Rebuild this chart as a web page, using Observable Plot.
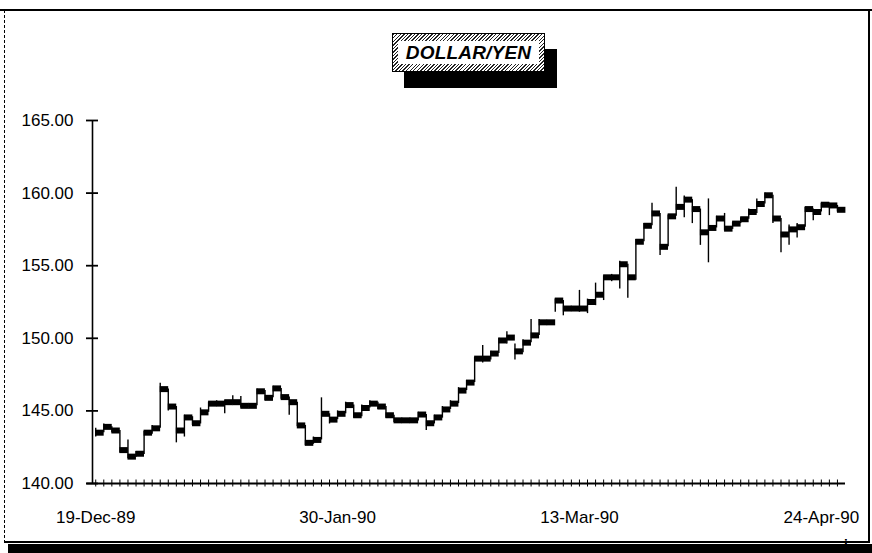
<!DOCTYPE html>
<html>
<head>
<meta charset="utf-8">
<script src="https://cdn.jsdelivr.net/npm/d3@7"></script>
<script src="https://cdn.jsdelivr.net/npm/@observablehq/plot@0.6"></script>
<style>
  html, body { margin: 0; padding: 0; background: #fff; }
  #wrap { position: relative; width: 872px; height: 553px; overflow: hidden; font-family: "Liberation Sans", Arial, sans-serif; }
  #chart { position: absolute; left: 0; top: 0; }
  .ln { position: absolute; background: #000; }
  #titlebox {
    position: absolute; left: 392px; top: 33px; width: 151px; height: 37px;
    border: 1px solid #000;
    background: repeating-linear-gradient(135deg, #222 0 1px, #fff 1px 2.5px);
    box-shadow: 12px 16px 0 0 #000;
  }
  #titlebox .inner {
    position: absolute; left: 5px; right: 5px; top: 7px; bottom: 7px;
    background: #fff; display: flex; align-items: center; justify-content: center;
    font-weight: bold; font-style: italic; font-size: 19px; letter-spacing: 0.2px; color: #000;
  }
</style>
</head>
<body>
<div id="wrap">
  <div id="chart"></div>
  <div id="titlebox"><div class="inner">DOLLAR/YEN</div></div>
  <div class="ln" style="left:0;top:9px;width:872px;height:2px;"></div>
  <div class="ln" style="left:4px;top:10px;width:0;height:533px;background:none;border-left:1.5px dashed #000;"></div>
  <div class="ln" style="left:868px;top:10px;width:1.5px;height:533px;"></div>
  <div class="ln" style="left:4px;top:541px;width:866px;height:1.5px;"></div>
  <div class="ln" style="left:8px;top:544px;width:864px;height:9px;"></div>
</div>
<script>
// Daily DOLLAR/YEN high-low-close, 19-Dec-89 .. 26-Apr-90 (weekdays)
const closeVals = [
  143.5, 143.9, 143.65, 142.3, 141.85, 142.05, 143.5, 143.8, 146.5, 145.3,
  143.65, 144.55, 144.15, 144.9, 145.5, 145.5, 145.6, 145.6, 145.35, 145.35,
  146.35, 145.9, 146.55, 145.95, 145.6, 144.0, 142.8, 143.0, 144.8, 144.4,
  144.8, 145.4, 144.7, 145.2, 145.5, 145.3, 144.7, 144.35, 144.35, 144.35,
  144.75, 144.15, 144.55, 145.1, 145.5, 146.4, 146.95, 148.6, 148.6, 148.95,
  149.85, 150.05, 149.1, 149.7, 150.2, 151.1, 151.1, 152.6, 152.05, 152.05,
  152.05, 152.5, 153.0, 154.2, 154.2, 155.1, 154.2, 156.65, 157.75, 158.6,
  156.3, 158.4, 159.05, 159.55, 158.9, 157.3, 157.6, 158.25, 157.55, 157.9,
  158.2, 158.7, 159.25, 159.85, 158.25, 157.15, 157.5, 157.65, 158.9, 158.7,
  159.2, 159.15, 158.85
];
const highVals = [
  143.8, 144.1, 143.9, 143.65, 143.0, 142.2, 143.6, 144.0, 146.9, 146.5,
  145.3, 144.7, 144.6, 145.2, 145.6, 145.7, 145.7, 146.05, 146.0, 145.5,
  146.5, 146.4, 146.7, 146.55, 145.95, 145.6, 144.0, 143.2, 145.9, 144.8,
  145.0, 145.6, 145.4, 145.4, 145.7, 145.6, 145.3, 144.7, 144.5, 144.5,
  144.9, 144.75, 144.7, 145.3, 145.7, 146.6, 147.1, 148.7, 149.5, 149.1,
  150.0, 150.45, 149.6, 149.9, 151.3, 151.3, 151.2, 152.7, 152.6, 152.2,
  153.3, 152.7, 153.8, 154.3, 154.4, 155.3, 155.1, 156.8, 157.9, 159.3,
  158.6, 158.5, 160.4, 159.8, 159.55, 158.9, 159.6, 158.4, 158.6, 158.0,
  158.3, 158.9, 159.6, 160.0, 159.85, 158.25, 157.8, 157.9, 159.0, 158.9,
  159.3, 159.3, 159.15
];
const lowVals = [
  143.2, 143.5, 143.5, 142.1, 141.7, 141.8, 142.0, 143.4, 143.8, 145.0,
  142.8, 143.2, 144.0, 144.1, 144.9, 145.3, 144.8, 145.4, 145.2, 145.2,
  145.35, 145.7, 145.9, 145.8, 144.7, 143.9, 142.6, 142.7, 143.0, 144.1,
  144.4, 144.8, 144.5, 144.6, 145.2, 145.1, 144.5, 144.2, 144.2, 144.2,
  144.3, 143.65, 144.1, 144.5, 145.1, 145.5, 146.4, 146.95, 148.3, 148.5,
  148.95, 149.6, 148.5, 149.0, 149.7, 150.2, 150.9, 151.8, 151.55, 151.9,
  151.8, 151.7, 152.25, 152.6, 153.9, 153.4, 152.75, 154.0, 156.65, 157.75,
  155.7, 156.3, 158.4, 158.3, 157.9, 156.4, 155.2, 157.6, 157.4, 157.5,
  157.9, 158.2, 158.6, 159.25, 157.9, 155.9, 156.4, 156.9, 157.65, 158.1,
  158.7, 158.45, 158.7
];
const yTicks = [140, 145, 150, 155, 160, 165];
const labelDays = [0, 30, 60, 90];
const dateLabels = ["19-Dec-89", "30-Jan-90", "13-Mar-90", "24-Apr-90"];

const xDomain = [-0.4, 93];
const yDomain = [140, 165];

const data = closeVals.map((c, i) => ({ i, close: c, high: highVals[i], low: lowVals[i] }));
const dayTicks = d3.range(0, closeVals.length);

const chart = Plot.plot({
  width: 872,
  height: 553,
  marginLeft: 92,
  marginRight: 27,
  marginTop: 120,
  marginBottom: 70,
  style: { fontFamily: "'Liberation Sans', Arial, sans-serif", fontSize: "17px", color: "#000", background: "transparent" },
  x: { type: "linear", domain: xDomain, axis: null },
  y: { domain: yDomain, axis: null },
  marks: [
    Plot.ruleX(data, { x: "i", y1: "low", y2: "high", stroke: "#000", strokeWidth: 1.4 }),
    Plot.ruleY(data, { y: "close", x1: "i", x2: d => d.i + 1.05, stroke: "#000", strokeWidth: 6 }),
    Plot.ruleX([xDomain[0]], { y1: yDomain[0], y2: yDomain[1], stroke: "#000", strokeWidth: 1.6 }),
    Plot.ruleY([yDomain[0]], { x1: xDomain[0] - 0.7, x2: xDomain[1], stroke: "#000", strokeWidth: 1.8 }),
    Plot.axisY({ ticks: yTicks, tickSize: 12, dx: 6, tickPadding: 13, tickFormat: d => d.toFixed(2), strokeWidth: 1.8, fontSize: 17 }),
    Plot.axisX({ ticks: dayTicks, tickSize: 7, dy: -3.5, tickFormat: () => "", strokeWidth: 1 }),
    Plot.axisX({ ticks: labelDays, tickSize: 0, tickPadding: 27, tickFormat: d => dateLabels[labelDays.indexOf(d)], fontSize: 17 })
  ]
});
document.getElementById("chart").appendChild(chart);
</script>
</body>
</html>
